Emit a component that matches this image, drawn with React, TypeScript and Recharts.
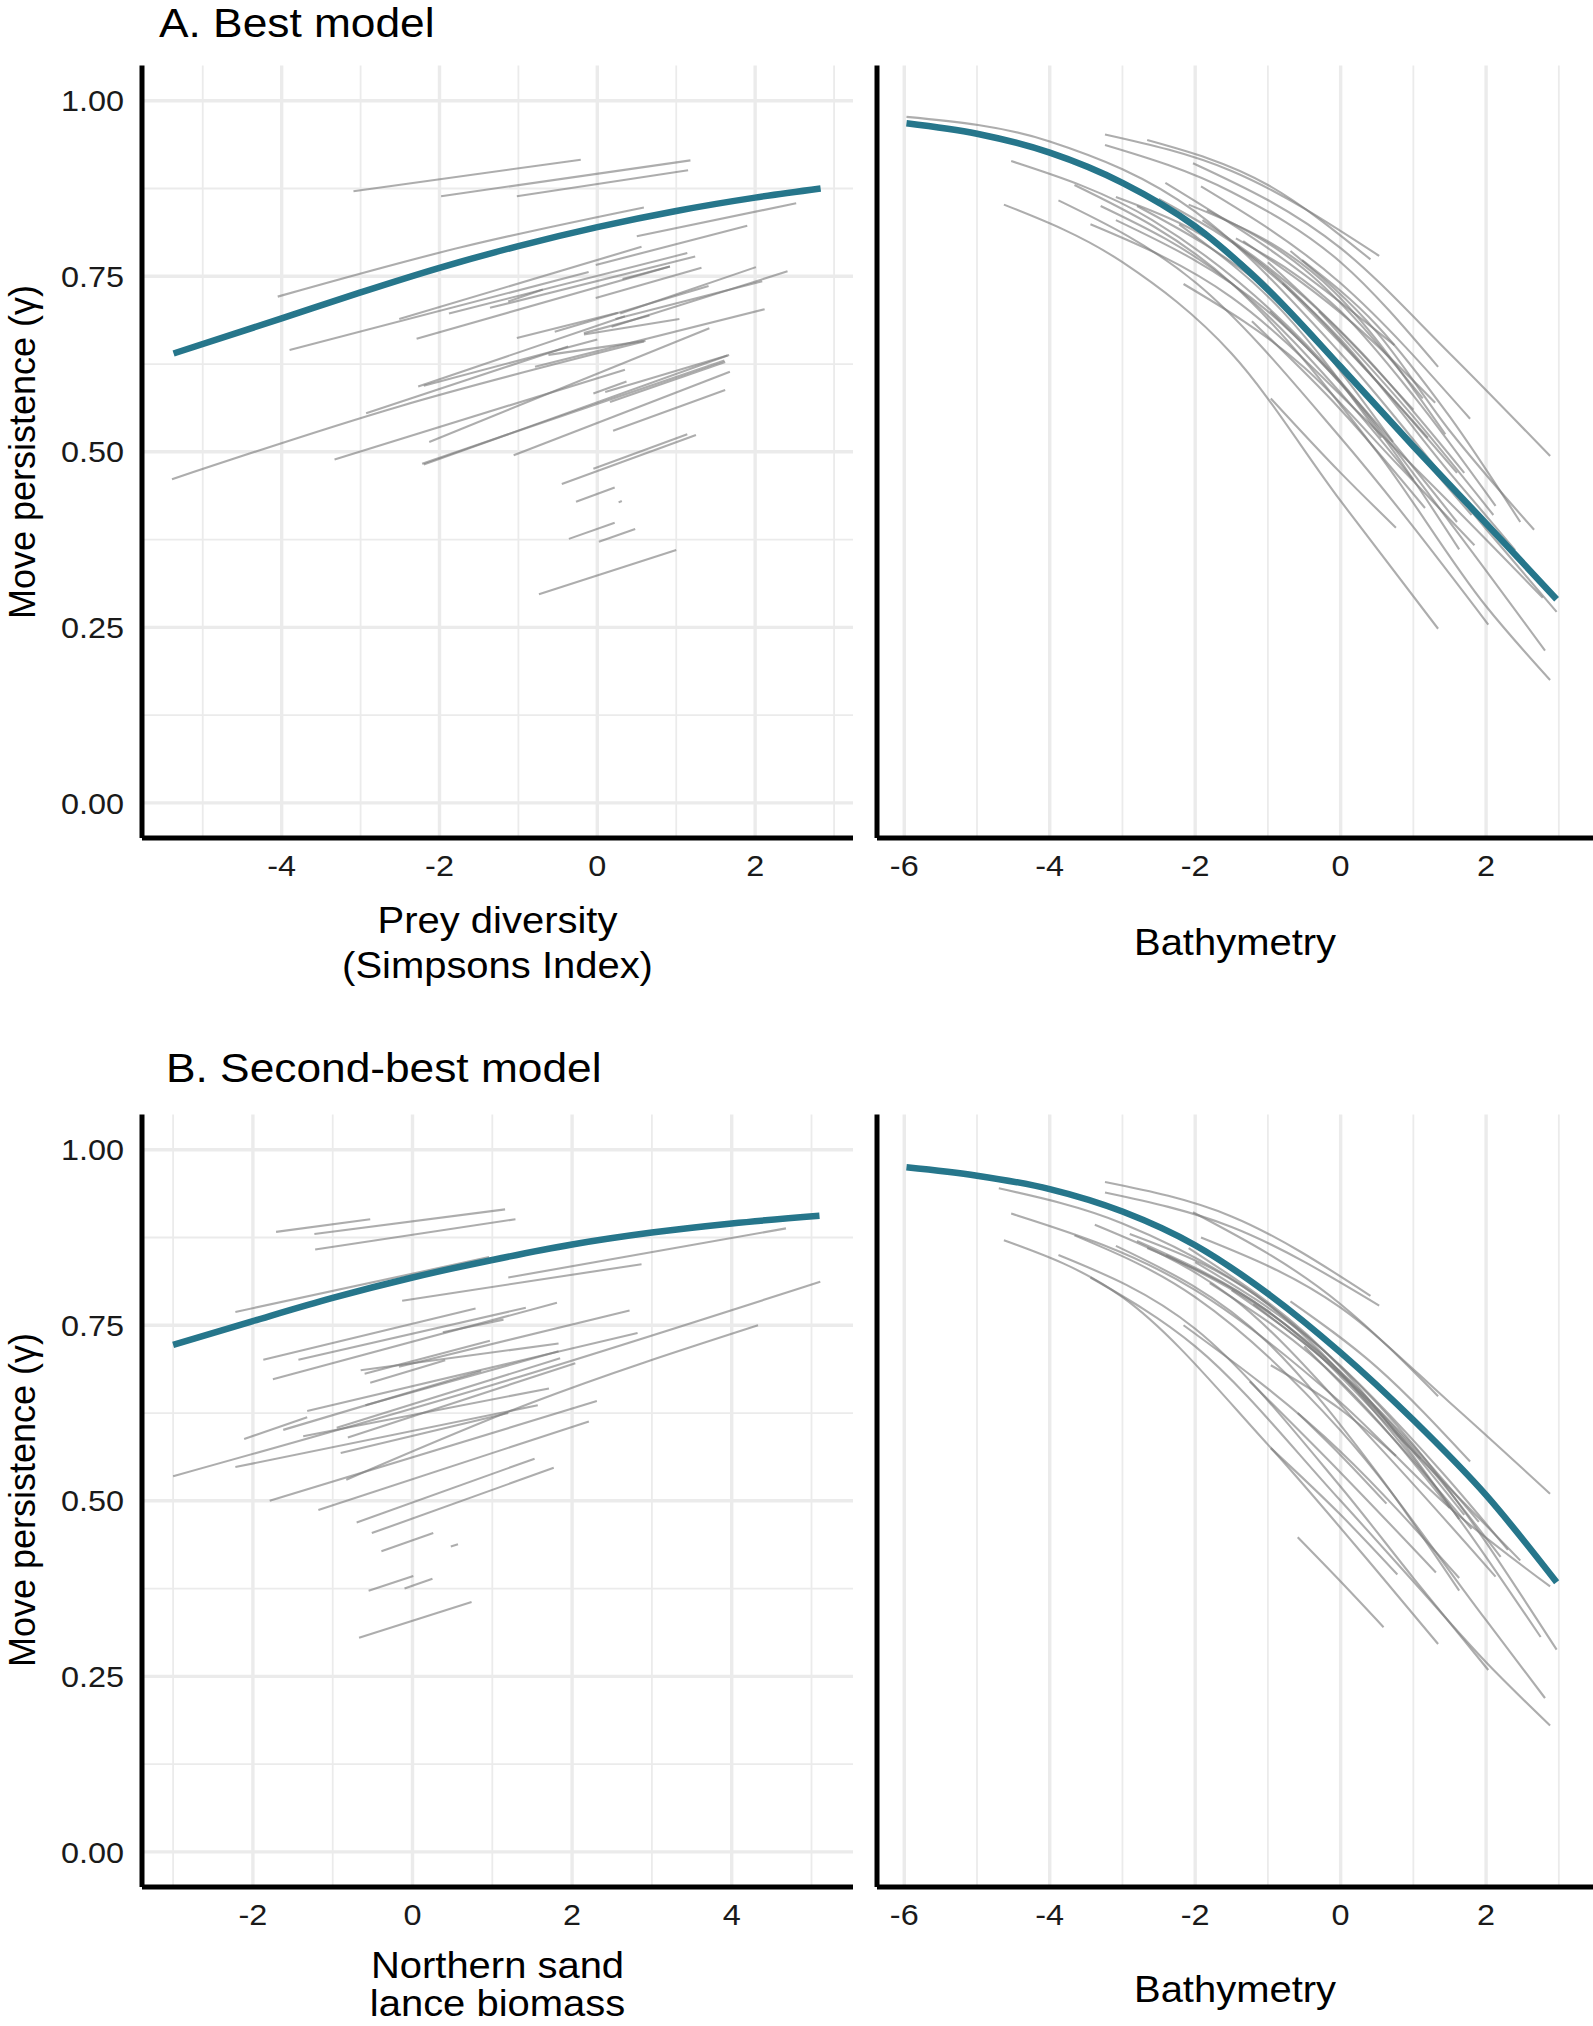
import React from "react";
import { CartesianGrid, Line, LineChart, XAxis, YAxis } from "recharts";

// Move persistence vs. covariates, two models x two covariates.
// Grey = individual fits, teal = population-level fit.

type Pt = [number, number];

const FONT = "'Liberation Sans', Arial, Helvetica, sans-serif";
const TEAL = "#26768b";
const STRETCH = 1.08; // source figure is a bit wider than tall

// ---- A. Best model: prey diversity -------------------------------------------------
const preyMean: Pt[] = [
  [-5.37, 0.64], [-4, 0.69], [-3, 0.727], [-2, 0.762], [-1, 0.793],
  [0, 0.82], [1, 0.843], [2, 0.862], [2.83, 0.875],
];

const preyTracks: Pt[][] = [
  [[-3.09, 0.871], [-0.21, 0.916]],
  [[-1.98, 0.864], [1.18, 0.915]],
  [[-1.02, 0.864], [1.15, 0.901]],
  [[-4.05, 0.721], [-1.7, 0.792], [0.59, 0.848]],
  [[0.5, 0.807], [2.52, 0.854]],
  [[-2.51, 0.689], [0.56, 0.792]],
  [[-0.02, 0.766], [1.9, 0.822]],
  [[-3.9, 0.645], [-0.11, 0.756]],
  [[-1.88, 0.697], [1.14, 0.783]],
  [[-1.36, 0.705], [1.24, 0.778]],
  [[-2.29, 0.661], [0.92, 0.764]],
  [[-1.13, 0.714], [-0.69, 0.731]],
  [[0.32, 0.746], [0.92, 0.764]],
  [[-0.02, 0.719], [1.32, 0.762]],
  [[0.29, 0.697], [2.01, 0.763]],
  [[0.18, 0.678], [2.41, 0.757]],
  [[0.23, 0.689], [2.09, 0.743]],
  [[-1.02, 0.662], [0.26, 0.698]],
  [[-0.54, 0.671], [1.41, 0.736]],
  [[-0.17, 0.669], [0.66, 0.694]],
  [[-0.17, 0.667], [1.04, 0.689]],
  [[-0.79, 0.621], [2.12, 0.703]],
  [[-0.62, 0.638], [0.61, 0.658]],
  [[-2.27, 0.593], [0.35, 0.693]],
  [[-2.2, 0.594], [0.0, 0.66]],
  [[-2.93, 0.555], [-0.37, 0.65]],
  [[0.1, 0.585], [1.67, 0.638]],
  [[-2.13, 0.514], [1.42, 0.676]],
  [[-2.2, 0.482], [1.65, 0.637]],
  [[-2.22, 0.483], [1.61, 0.63]],
  [[-3.33, 0.489], [0.35, 0.617]],
  [[-5.39, 0.461], [-2.5, 0.565], [0.59, 0.657]],
  [[-1.06, 0.495], [1.68, 0.614]],
  [[0.2, 0.53], [1.62, 0.588]],
  [[-0.05, 0.583], [0.37, 0.6]],
  [[0.16, 0.571], [1.62, 0.628]],
  [[-0.05, 0.476], [1.14, 0.525]],
  [[-0.45, 0.454], [1.25, 0.524]],
  [[-0.27, 0.429], [0.22, 0.449]],
  [[0.27, 0.428], [0.31, 0.43]],
  [[-0.36, 0.376], [0.22, 0.399]],
  [[0.02, 0.372], [0.48, 0.39]],
  [[-0.74, 0.297], [1.0, 0.36]],
];

// ---- A. Best model: bathymetry ----------------------------------------------------
const bathyMeanA: Pt[] = [
  [-5.97, 0.968], [-5, 0.953], [-4, 0.926], [-3, 0.883], [-2, 0.821],
  [-1, 0.731], [0, 0.621], [1, 0.508], [2, 0.398], [2.97, 0.29],
];

const bathyTracksA: Pt[][] = [
  [[-3.24, 0.952], [-1.5, 0.9], [0.53, 0.779]],
  [[-2.66, 0.944], [-1, 0.88], [0.41, 0.774]],
  [[-3.24, 0.937], [-1.5, 0.87], [0, 0.77], [1.34, 0.621]],
  [[-2.03, 0.911], [0, 0.79], [1.5, 0.64], [2.88, 0.494]],
  [[-1.92, 0.878], [0, 0.74], [1.78, 0.547]],
  [[-5.97, 0.977], [-4, 0.942], [-2, 0.842], [0, 0.64], [2, 0.39], [2.97, 0.272]],
  [[-2.41, 0.883], [-1, 0.79], [0.74, 0.652]],
  [[-2.09, 0.852], [-0.09, 0.728], [1.44, 0.525]],
  [[-1.84, 0.844], [-0.5, 0.76], [1.13, 0.576]],
  [[-1.44, 0.804], [0, 0.7], [1, 0.58], [2.13, 0.423]],
  [[-0.69, 0.786], [0.5, 0.67], [1.5, 0.53], [2.66, 0.389]],
  [[-0.53, 0.773], [0.5, 0.68], [1.5, 0.55], [2.47, 0.4]],
  [[-3.09, 0.863], [-1.34, 0.768], [0.72, 0.514]],
  [[-2.22, 0.824], [-0.8, 0.7], [0.56, 0.52]],
  [[-0.97, 0.7], [0.3, 0.56], [1.63, 0.361]],
  [[-1.22, 0.686], [0, 0.56], [1.16, 0.42]],
  [[-0.96, 0.576], [0, 0.47], [0.76, 0.392]],
  [[-2.16, 0.739], [-0.5, 0.62], [0.8, 0.48], [1.84, 0.367]],
  [[-4.63, 0.852], [-3, 0.77], [-1.5, 0.64], [0, 0.43], [1.34, 0.248]],
  [[-3.88, 0.858], [-1.97, 0.739], [0, 0.52], [2.03, 0.254]],
  [[-4.53, 0.914], [-2.59, 0.83], [0, 0.6], [1.5, 0.4], [2.81, 0.217]],
  [[-3.66, 0.88], [-1.5, 0.74], [0.5, 0.5], [2, 0.28], [2.88, 0.175]],
  [[-3.44, 0.824], [-1.5, 0.72], [0.5, 0.53], [2.78, 0.292]],
  [[-3.09, 0.83], [-1, 0.7], [0.5, 0.54], [1.6, 0.4]],
  [[-1.34, 0.8], [0.2, 0.68], [1.3, 0.57]],
  [[-1.5, 0.8], [0, 0.66], [1.5, 0.47], [2.4, 0.36]],
  [[-1.0, 0.77], [0.3, 0.64], [1.7, 0.47]],
  [[-2.5, 0.86], [-1, 0.76], [0.5, 0.6], [1.6, 0.47]],
  [[-0.8, 0.74], [0.5, 0.6], [1.2, 0.52]],
  [[-1.9, 0.83], [-0.5, 0.72], [1.0, 0.56]],
  [[-0.3, 0.7], [1.0, 0.55], [2.1, 0.41]],
  [[-2.8, 0.85], [-1, 0.73], [0.8, 0.53], [1.8, 0.41]],
  [[-3.3, 0.85], [-1.5, 0.74], [0.2, 0.56], [1.0, 0.46]],
];

// ---- B. Second-best model: northern sand lance biomass ----------------------------
const sandLanceMean: Pt[] = [
  [-3, 0.722], [-2, 0.756], [-1, 0.789], [0, 0.818], [1, 0.843],
  [2, 0.865], [3, 0.882], [4, 0.895], [5.1, 0.906],
];

const sandLanceTracks: Pt[][] = [
  [[-1.71, 0.883], [-0.53, 0.901]],
  [[-1.23, 0.88], [1.16, 0.915]],
  [[-1.22, 0.858], [1.29, 0.901]],
  [[-2.22, 0.769], [0.96, 0.847]],
  [[-0.13, 0.785], [2.87, 0.837]],
  [[1.2, 0.818], [4.68, 0.888]],
  [[-1.87, 0.701], [0.79, 0.774]],
  [[-1.43, 0.701], [1.42, 0.775]],
  [[-1.75, 0.673], [1.81, 0.782]],
  [[0.38, 0.74], [1.14, 0.758]],
  [[-0.65, 0.686], [1.83, 0.724]],
  [[-0.6, 0.681], [0.97, 0.728]],
  [[-0.53, 0.668], [0.41, 0.7]],
  [[-0.17, 0.691], [2.72, 0.771]],
  [[-1.32, 0.628], [2.82, 0.739]],
  [[-0.59, 0.636], [1.83, 0.713]],
  [[-0.95, 0.604], [1.85, 0.703]],
  [[-0.81, 0.59], [2.04, 0.696]],
  [[-2.11, 0.588], [-1.32, 0.619]],
  [[-1.62, 0.601], [0.86, 0.685]],
  [[-1.37, 0.592], [1.71, 0.66]],
  [[-2.22, 0.548], [1.57, 0.636]],
  [[-3.0, 0.535], [1.0, 0.665], [5.11, 0.812]],
  [[-0.83, 0.53], [1.5, 0.64], [4.33, 0.75]],
  [[-1.79, 0.5], [2.31, 0.642]],
  [[-1.18, 0.487], [2.21, 0.613]],
  [[-0.9, 0.568], [1.2, 0.625]],
  [[-0.7, 0.469], [1.53, 0.56]],
  [[-0.51, 0.454], [1.77, 0.547]],
  [[-0.39, 0.428], [0.26, 0.454]],
  [[0.48, 0.435], [0.57, 0.438]],
  [[-0.55, 0.372], [0.01, 0.393]],
  [[-0.1, 0.375], [0.25, 0.389]],
  [[-0.67, 0.305], [0.74, 0.356]],
];

// ---- B. Second-best model: bathymetry ---------------------------------------------
const bathyMeanB: Pt[] = [
  [-5.97, 0.975], [-5, 0.963], [-4, 0.944], [-3, 0.912], [-2, 0.864],
  [-1, 0.795], [0, 0.711], [1, 0.615], [2, 0.508], [2.97, 0.384],
];

const bathyTracksB: Pt[][] = [
  [[-3.24, 0.954], [-1.5, 0.905], [0.41, 0.792]],
  [[-3.24, 0.939], [-1.5, 0.89], [0.53, 0.778]],
  [[-2.03, 0.911], [0, 0.78], [1.34, 0.649]],
  [[-1.92, 0.875], [0, 0.775], [1.5, 0.64], [2.88, 0.51]],
  [[-0.69, 0.784], [0.5, 0.69], [1.78, 0.556]],
  [[-4.7, 0.945], [-3, 0.895], [-1, 0.78], [1, 0.58], [2.97, 0.288]],
  [[-4.53, 0.909], [-2, 0.8], [0, 0.64], [1.5, 0.49], [2.88, 0.378]],
  [[-4.63, 0.871], [-3, 0.79], [-1, 0.58], [0.5, 0.4], [1.34, 0.296]],
  [[-3.88, 0.85], [-2, 0.745], [0, 0.52], [1, 0.39], [2.03, 0.259]],
  [[-3.44, 0.818], [-2, 0.72], [0, 0.5], [1, 0.385], [2, 0.27], [2.88, 0.18]],
  [[-3.66, 0.878], [-2, 0.79], [0, 0.6], [2, 0.33], [2.81, 0.219]],
  [[-3.38, 0.893], [-1.5, 0.79], [0.5, 0.58], [2.13, 0.392]],
  [[-3.09, 0.863], [-1, 0.725], [0.5, 0.54], [1.63, 0.372]],
  [[-1.25, 0.67], [0, 0.54], [1.31, 0.398]],
  [[-2.09, 0.86], [0, 0.69], [1.63, 0.474]],
  [[-0.96, 0.693], [0, 0.63], [0.76, 0.564]],
  [[-0.59, 0.625], [0, 0.565], [0.63, 0.496]],
  [[-0.96, 0.575], [0, 0.48], [0.78, 0.395]],
  [[-0.59, 0.448], [0, 0.385], [0.59, 0.32]],
  [[-2.16, 0.75], [0, 0.57], [1.63, 0.39]],
  [[-2.66, 0.86], [-1, 0.77], [1, 0.57], [2.47, 0.415]],
  [[-2.9, 0.88], [-1, 0.78], [1, 0.56], [2.75, 0.306]],
  [[-2.4, 0.85], [-0.5, 0.73], [1.2, 0.55], [2.2, 0.42]],
  [[-1.8, 0.81], [0, 0.67], [1.5, 0.49]],
  [[-1.2, 0.78], [0.3, 0.65], [1.7, 0.48]],
  [[-2.0, 0.84], [-0.3, 0.72], [1.4, 0.54], [2.3, 0.43]],
  [[-0.5, 0.72], [0.8, 0.58], [1.8, 0.46]],
  [[-2.8, 0.87], [-1, 0.77], [0.8, 0.6], [1.9, 0.47]],
  [[-1.5, 0.8], [0, 0.68], [1.1, 0.56]],
];

// ---- axes ----------------------------------------------------------------------
const yTicks = [0, 0.25, 0.5, 0.75, 1];
const yMinor = [0.125, 0.375, 0.625, 0.875];
const preyTicks = [-4, -2, 0, 2];
const preyMinor = [-5, -3, -1, 1, 3];
const bathyTicks = [-6, -4, -2, 0, 2];
const bathyMinor = [-5, -3, -1, 1, 3];
const sandTicks = [-2, 0, 2, 4];
const sandMinor = [-3, -1, 1, 3, 5];

const rows = (pts: Pt[]) => pts.map(([x, y]) => ({ x, y }));

const PLOT_TOP = 65.6;
const CHART_H = 898;

// tick label, slightly widened like the source
function Tick(props: any) {
  const { x, y, payload, textAnchor, dy, fmt } = props;
  return (
    <text
      transform={`translate(${x},${y}) scale(${STRETCH},1)`}
      textAnchor={textAnchor}
      dy={dy}
      fontSize={30}
      fill="#1a1a1a"
      fontFamily={FONT}
    >
      {fmt(payload.value)}
    </text>
  );
}

function Panel({
  left,
  top,
  width,
  axisWidth,
  xDomain,
  xTicks,
  xMinor,
  mean,
  tracks,
  yLabels,
}: {
  left: number;
  top: number;
  width: number;
  axisWidth: number;
  xDomain: [number, number];
  xTicks: number[];
  xMinor: number[];
  mean: Pt[];
  tracks: Pt[][];
  yLabels: boolean;
}) {
  return (
    <div style={{ position: "absolute", left, top }}>
      <LineChart
        width={width}
        height={CHART_H}
        margin={{ top: PLOT_TOP, right: 0, bottom: 0, left: 0 }}
      >
        <CartesianGrid
          stroke="#ebebeb"
          strokeWidth={1.8}
          verticalValues={xMinor}
          horizontalValues={yMinor}
        />
        <CartesianGrid
          stroke="#ebebeb"
          strokeWidth={3.4}
          verticalValues={xTicks}
          horizontalValues={yTicks}
        />
        <XAxis
          type="number"
          dataKey="x"
          domain={xDomain}
          ticks={xTicks}
          interval={0}
          allowDataOverflow
          height={60}
          tickLine={false}
          tickSize={10}
          tickMargin={7}
          tick={(p: any) => <Tick {...p} dy="0.71em" fmt={(v: number) => String(v)} />}
          axisLine={{ stroke: "#000", strokeWidth: 5 }}
        />
        <YAxis
          type="number"
          domain={[-0.05, 1.05]}
          ticks={yTicks}
          interval={0}
          allowDataOverflow
          width={axisWidth}
          tickLine={false}
          tickSize={10}
          tickMargin={8}
          tick={
            yLabels
              ? (p: any) => <Tick {...p} dy="0.355em" fmt={(v: number) => v.toFixed(2)} />
              : false
          }
          axisLine={{ stroke: "#000", strokeWidth: 5 }}
        />
        {tracks.map((t, i) => (
          <Line
            key={i}
            data={rows(t)}
            dataKey="y"
            type="monotone"
            stroke="#7a7a7a"
            strokeOpacity={0.62}
            strokeWidth={2.1}
            dot={false}
            activeDot={false}
            isAnimationActive={false}
          />
        ))}
        <Line
          data={rows(mean)}
          dataKey="y"
          type="monotone"
          stroke={TEAL}
          strokeWidth={6.5}
          dot={false}
          activeDot={false}
          isAnimationActive={false}
        />
      </LineChart>
    </div>
  );
}

function HText({ x, y, size, children }: { x: number; y: number; size: number; children: React.ReactNode }) {
  return (
    <text
      transform={`translate(${x},${y}) scale(${STRETCH},1)`}
      textAnchor="middle"
      fontSize={size}
      fontFamily={FONT}
      fill="#000"
    >
      {children}
    </text>
  );
}

export default function App() {
  const topB = 1115 - PLOT_TOP;
  return (
    <div
      style={{
        position: "absolute",
        left: 0,
        top: 0,
        width: 1593,
        height: 2026,
        background: "#fff",
        fontFamily: FONT,
        overflow: "hidden",
      }}
    >
      <style>{"body{margin:0;overflow:hidden}"}</style>
      <Panel left={0} top={0} width={853} axisWidth={142} xDomain={[-5.77, 3.24]}
        xTicks={preyTicks} xMinor={preyMinor} mean={preyMean} tracks={preyTracks} yLabels />
      <Panel left={860} top={0} width={733} axisWidth={17} xDomain={[-6.375, 3.47]}
        xTicks={bathyTicks} xMinor={bathyMinor} mean={bathyMeanA} tracks={bathyTracksA} yLabels={false} />
      <Panel left={0} top={topB} width={853} axisWidth={142} xDomain={[-3.39, 5.52]}
        xTicks={sandTicks} xMinor={sandMinor} mean={sandLanceMean} tracks={sandLanceTracks} yLabels />
      <Panel left={860} top={topB} width={733} axisWidth={17} xDomain={[-6.375, 3.47]}
        xTicks={bathyTicks} xMinor={bathyMinor} mean={bathyMeanB} tracks={bathyTracksB} yLabels={false} />

      <svg width={1593} height={2026} style={{ position: "absolute", left: 0, top: 0, pointerEvents: "none" }}>
        <text transform={`translate(159,37) scale(${STRETCH},1)`} fontSize={41} fontFamily={FONT} fill="#000">
          A. Best model
        </text>
        <text transform={`translate(166,1082) scale(${STRETCH},1)`} fontSize={41} fontFamily={FONT} fill="#000">
          B. Second-best model
        </text>

        <text transform="translate(35,452) rotate(-90)" textAnchor="middle" fontSize={36} fontFamily={FONT} fill="#000">
          Move persistence (γ)
        </text>
        <text transform="translate(35,1500) rotate(-90)" textAnchor="middle" fontSize={36} fontFamily={FONT} fill="#000">
          Move persistence (γ)
        </text>

        <HText x={497.5} y={933} size={37}>Prey diversity</HText>
        <HText x={497.5} y={978} size={37}>(Simpsons Index)</HText>
        <HText x={1235} y={955} size={37}>Bathymetry</HText>

        <HText x={497.5} y={1978} size={37}>Northern sand</HText>
        <HText x={497.5} y={2016} size={37}>lance biomass</HText>
        <HText x={1235} y={2002} size={37}>Bathymetry</HText>
      </svg>
    </div>
  );
}
